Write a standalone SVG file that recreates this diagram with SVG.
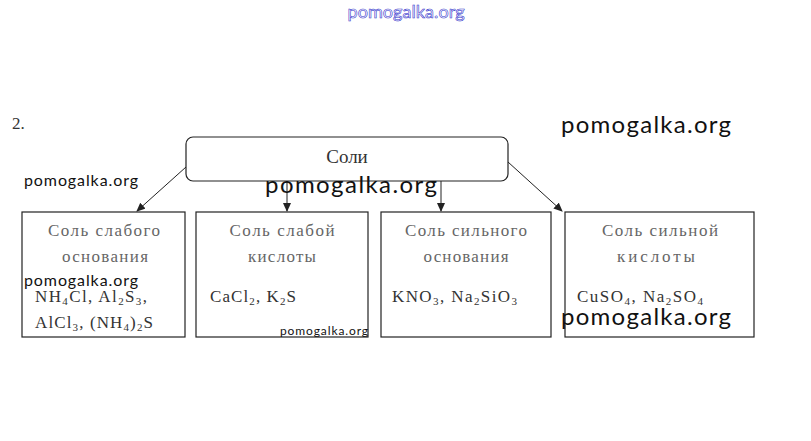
<svg xmlns="http://www.w3.org/2000/svg" width="811" height="441" viewBox="0 0 811 441">
<style>
.box{fill:#fff;stroke:#222;stroke-width:1.2}
.conn{stroke:#222;stroke-width:1;fill:none;marker-end:url(#ah)}
.hd{font-family:"Liberation Serif",serif;font-size:17px;fill:#666;text-anchor:middle}
.fm{font-family:"Liberation Serif",serif;font-size:17px;fill:#333}
.wm{font-family:Lato,"Open Sans",sans-serif;fill:#111}
.sub{font-size:11px}
</style>
<defs>
<marker id="ah" markerWidth="10" markerHeight="10" refX="8" refY="4" orient="auto" markerUnits="userSpaceOnUse">
<path d="M0,0 L9,4 L0,8 Z" fill="#222"/>
</marker>
</defs>
<rect width="811" height="441" fill="#fff"/>
<text x="406" y="18" font-family="Lato,sans-serif" font-size="18" fill="#fff" stroke="#3333cc" stroke-width="0.6" text-anchor="middle" textLength="117">pomogalka.org</text>
<text x="12" y="129" font-family="'Liberation Serif',serif" font-size="17" fill="#333">2.</text>
<g id="connectors">
<line class="conn" x1="186" y1="167" x2="137" y2="211"/>
<line class="conn" x1="287" y1="181" x2="287" y2="211"/>
<line class="conn" x1="441" y1="181" x2="441" y2="211"/>
<line class="conn" x1="508" y1="162" x2="562" y2="211"/>
</g>
<g id="soli">
<rect class="box" x="186" y="137" width="322" height="44" rx="7"/>
<text x="347" y="163" font-family="'Liberation Serif',serif" font-size="19" fill="#333" text-anchor="middle">Соли</text>
</g>
<g id="weak-base">
<rect class="box" x="22" y="212" width="163" height="125"/>
<text class="hd" x="104" y="236" textLength="112">Соль слабого</text>
<text class="hd" x="105" y="262" textLength="86">основания</text>
<text class="fm" x="35" y="302" textLength="112">NH<tspan class="sub" dy="3">4</tspan><tspan dy="-3">Cl, Al</tspan><tspan class="sub" dy="3">2</tspan><tspan dy="-3">S</tspan><tspan class="sub" dy="3">3</tspan><tspan dy="-3">,</tspan></text>
<text class="fm" x="35" y="328" textLength="118">AlCl<tspan class="sub" dy="3">3</tspan><tspan dy="-3">, (NH</tspan><tspan class="sub" dy="3">4</tspan><tspan dy="-3">)</tspan><tspan class="sub" dy="3">2</tspan><tspan dy="-3">S</tspan></text>
</g>
<g id="weak-acid">
<rect class="box" x="196" y="212" width="172" height="125"/>
<text class="hd" x="282" y="236" textLength="105">Соль слабой</text>
<text class="hd" x="282" y="262" textLength="68">кислоты</text>
<text class="fm" x="210" y="302" textLength="86">CaCl<tspan class="sub" dy="3">2</tspan><tspan dy="-3">, K</tspan><tspan class="sub" dy="3">2</tspan><tspan dy="-3">S</tspan></text>
</g>
<g id="strong-base">
<rect class="box" x="381" y="212" width="170" height="125"/>
<text class="hd" x="466" y="236" textLength="122">Соль сильного</text>
<text class="hd" x="466" y="262" textLength="85">основания</text>
<text class="fm" x="392" y="302" textLength="125">KNO<tspan class="sub" dy="3">3</tspan><tspan dy="-3">, Na</tspan><tspan class="sub" dy="3">2</tspan><tspan dy="-3">SiO</tspan><tspan class="sub" dy="3">3</tspan></text>
</g>
<g id="strong-acid">
<rect class="box" x="565" y="212" width="189" height="125"/>
<text class="hd" x="660" y="236" textLength="116">Соль сильной</text>
<text class="hd" x="656" y="262" textLength="78">кислоты</text>
<text class="fm" x="577" y="302" textLength="126">CuSO<tspan class="sub" dy="3">4</tspan><tspan dy="-3">, Na</tspan><tspan class="sub" dy="3">2</tspan><tspan dy="-3">SO</tspan><tspan class="sub" dy="3">4</tspan></text>
</g>
<text class="wm" x="561" y="133" font-size="24" textLength="170">pomogalka.org</text>
<text class="wm" x="24" y="186" font-size="16" textLength="114">pomogalka.org</text>
<text class="wm" x="265" y="193" font-size="24" textLength="172">pomogalka.org</text>
<text class="wm" x="24" y="286" font-size="16" textLength="114">pomogalka.org</text>
<text class="wm" x="280" y="335" font-size="12" textLength="88">pomogalka.org</text>
<text class="wm" x="561" y="325" font-size="24" textLength="170">pomogalka.org</text>
</svg>
